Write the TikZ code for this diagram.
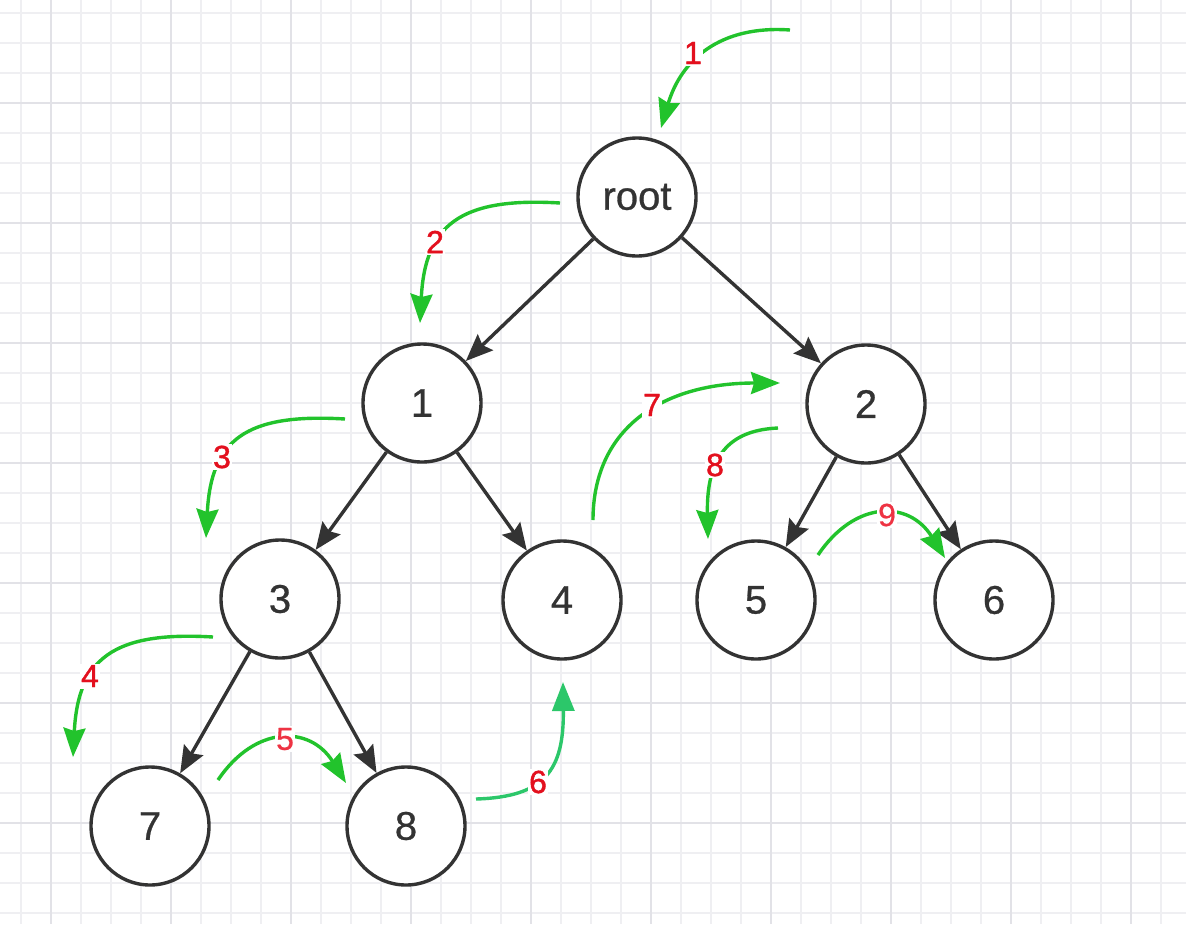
\documentclass[tikz,border=0pt]{standalone}
\usepackage{fontspec}
\setmainfont{Liberation Sans}
\newfontfamily\treefont[FakeBold=0.7]{Liberation Sans}
\newfontfamily\lblfont[FakeBold=1.3]{Liberation Sans}
\newfontfamily\lbllightfont[FakeBold=0.6]{Liberation Sans}
\usetikzlibrary{arrows.meta}
\definecolor{gridminor}{HTML}{EFEFF2}
\definecolor{gridmajor}{HTML}{E2E2E7}
\definecolor{nodeline}{HTML}{333333}
\definecolor{walkgreen}{HTML}{22C32C}
\definecolor{walkteal}{HTML}{2CC76A}
\definecolor{lblred}{HTML}{E3101E}
\definecolor{lblredlight}{HTML}{EE3343}
\tikzset{
  treenode/.style={circle, draw=nodeline, line width=3.4pt, fill=white,
    minimum size=118pt, inner sep=0pt, text=nodeline, font=\treefont\fontsize{40}{42}\selectfont},
  treeedge/.style={draw=nodeline, line width=3.4pt,
    -{Stealth[length=27pt,width=22pt,inset=4pt]}},
  walk/.style={draw=walkgreen, line width=3.4pt,
    -{Stealth[length=29pt,width=22pt,inset=3pt]}},
  walklbl/.style={fill=white, inner sep=1.5pt, text=lblred,
    font=\lblfont\fontsize{32}{34}\selectfont},
  walklbllight/.style={walklbl, text=lblredlight,
    font=\lbllightfont\fontsize{32}{34}\selectfont},
  gridlineminor/.style={draw=gridminor, line width=1.5pt},
  gridlinemajor/.style={draw=gridmajor, line width=1.5pt},
}
\begin{document}
\begin{tikzpicture}[x=1pt,y=-1pt]
\useasboundingbox (0,0) rectangle (1186,924);
\fill[white] (0,0) rectangle (1186,924);
% grid
\foreach \gx in {21,51,...,1186} {\draw[gridlineminor] (\gx,0) -- (\gx,924);}
\foreach \gy in {13,43,...,924} {\draw[gridlineminor] (0,\gy) -- (1186,\gy);}
\foreach \gx in {51,171,...,1186} {\draw[gridlinemajor] (\gx,0) -- (\gx,924);}
\foreach \gy in {103,223,...,924} {\draw[gridlinemajor] (0,\gy) -- (1186,\gy);}

% tree nodes
\node[treenode] (root) at (637,197) {root};
\node[treenode] (n1) at (422,403) {1};
\node[treenode] (n2) at (866,404) {2};
\node[treenode] (n3) at (280,599) {3};
\node[treenode] (n4) at (562,600) {4};
\node[treenode] (n5) at (756,600) {5};
\node[treenode] (n6) at (994,600) {6};
\node[treenode] (n7) at (150,826) {7};
\node[treenode] (n8) at (406,826) {8};

% tree edges
\draw[treeedge] (root) -- (n1);
\draw[treeedge] (root) -- (n2);
\draw[treeedge] (n1) -- (n3);
\draw[treeedge] (n1) -- (n4);
\draw[treeedge] (n2) -- (n5);
\draw[treeedge] (n2) -- (n6);
\draw[treeedge] (n3) -- (n7);
\draw[treeedge] (n3) -- (n8);

% traversal arrow ends
\coordinate (s1) at (790,30);  \coordinate (t1) at (661,128);
\coordinate (s2) at (560,203); \coordinate (t2) at (420,323);
\coordinate (s3) at (345,419); \coordinate (t3) at (206,538);
\coordinate (s4) at (213,637); \coordinate (t4) at (73,757);
\coordinate (s5) at (218,780); \coordinate (t5) at (346,783);
\coordinate (s6) at (476,799); \coordinate (t6) at (563,682);
\coordinate (s7) at (593,520); \coordinate (t7) at (780,383);
\coordinate (s8) at (778,428); \coordinate (t8) at (708,539);
\coordinate (s9) at (818,555); \coordinate (t9) at (945,558);

% traversal arrows
\draw[walk] (s1) .. controls +(-70,-5) and +(20,-68) .. (t1);
\draw[walk] (s2) .. controls +(-100,-6) and +(5,-98) .. (t2);
\draw[walk] (s3) .. controls +(-100,-6) and +(5,-98) .. (t3);
\draw[walk] (s4) .. controls +(-100,-6) and +(5,-98) .. (t4);
\draw[walk] (s5) .. controls +(37,-55) and +(-36,-58) .. (t5);
\draw[walk, draw=walkteal, -{Stealth[length=29pt,width=22pt,inset=0pt]}] (s6) .. controls +(69,-2) and +(1,88) .. (t6);
\draw[walk] (s7) .. controls +(0,-90) and +(-120,0) .. (t7);
\draw[walk] (s8) .. controls +(-43,2) and +(-2,-89) .. (t8);
\draw[walk] (s9) .. controls +(37,-55) and +(-36,-58) .. (t9);

% traversal labels
\node[walklbl] (l1) at (693,53) {1};
\node[walklbl] (l2) at (435,242) {2};
\node[walklbl] (l3) at (222,457) {3};
\node[walklbl] (l4) at (90,676) {4};
\node[walklbllight] (l5) at (285,739) {5};
\node[walklbl] (l6) at (538,782) {6};
\node[walklbl] (l7) at (652,405) {7};
\node[walklbl] (l8) at (715,465) {8};
\node[walklbllight] (l9) at (887,515) {9};
\end{tikzpicture}
\end{document}
